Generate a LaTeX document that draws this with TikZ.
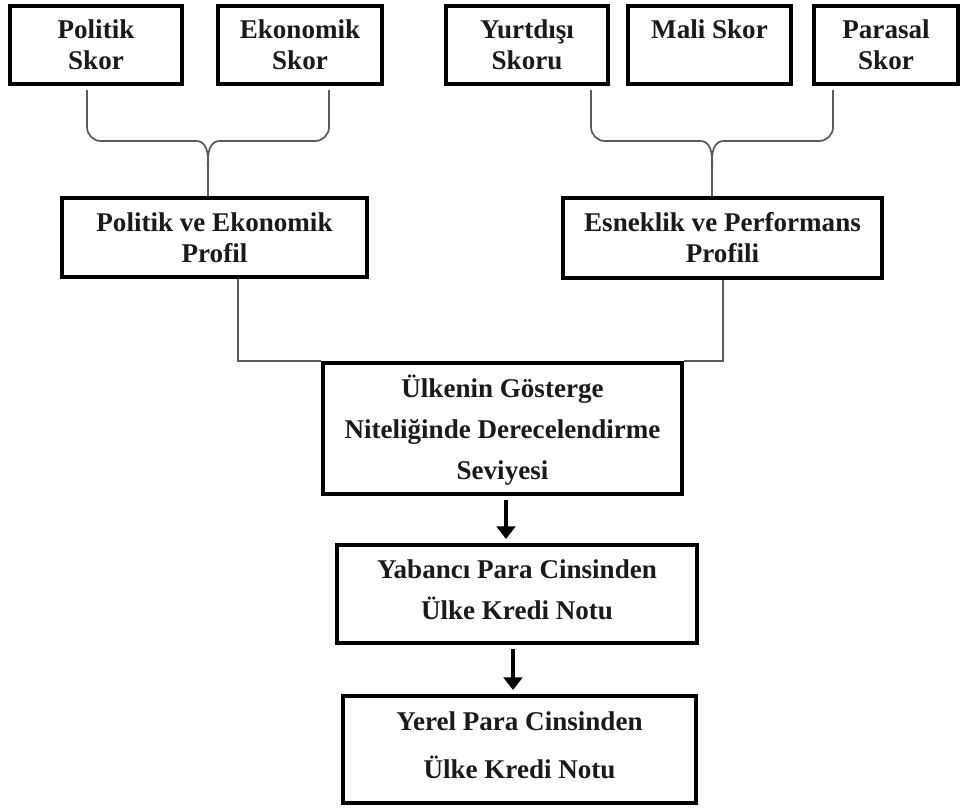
\documentclass[tikz,border=0pt]{standalone}
\usepackage{fontspec}
\setmainfont{Liberation Serif}
\usetikzlibrary{fit,arrows.meta}
\definecolor{ink}{HTML}{1A1A1A}
\definecolor{wire}{HTML}{5A5A5A}
\tikzset{
  box/.style={draw=black, line width=3pt, inner sep=0pt, fill=white},
  txt/.style={align=center, text=ink, inner sep=0pt,
    font=\fontsize{20.3}{23.25}\selectfont\bfseries},
  widetxt/.style={txt, font=\fontsize{20.3}{30.75}\selectfont\bfseries},
  talltxt/.style={txt, font=\fontsize{20.3}{36}\selectfont\bfseries},
  brace/.style={draw=wire, line width=1.3pt},
  wireline/.style={draw=wire, line width=1pt},
  bigarrow/.style={draw=black, line width=3.6pt,
    -{Triangle[width=14pt,length=9.5pt]}, shorten <=3pt, shorten >=3pt}
}
\begin{document}
\begin{tikzpicture}[x=0.75pt,y=-0.75pt]
\useasboundingbox[fill=white] (0,0) rectangle (960,808);

% score boxes
\node[box, fit={(10,6) (182,84)}]  (pol) {};
\node[box, fit={(218,6) (382,84)}] (eko) {};
\node[box, fit={(446,6) (608,84)}] (yur) {};
\node[box, fit={(628,6) (791,84)}] (mal) {};
\node[box, fit={(814,6) (958,84)}] (par) {};
\node[txt] (polt) at (pol.center) {Politik\\Skor};
\node[txt] (ekot) at (eko.center) {Ekonomik\\Skor};
\node[txt] (yurt) at (yur.center) {Yurtdışı\\Skoru};
\node[txt] (malt) at (mal.center) {Mali Skor\\\phantom{Skor}};
\node[txt] (part) at (par.center) {Parasal\\Skor};

% profile boxes
\node[box, fit={(62,198) (367,277)}]  (pep) {};
\node[box, fit={(563,198) (882,278)}] (epp) {};
\node[txt] (pept) at (pep.center) {Politik ve Ekonomik\\Profil};
\node[txt] (eppt) at (epp.center) {Esneklik ve Performans\\Profili};

% rating chain
\node[box, fit={(323,363) (682,494)}] (gos) {};
\node[box, fit={(337,545) (697,643)}] (yab) {};
\node[box, fit={(343,696) (696,803)}] (yer) {};
\node[widetxt] (gost) at ([yshift=-1.5pt]gos.center) {Ülkenin Gösterge\\Niteliğinde Derecelendirme\\Seviyesi};
\node[widetxt] (yabt) at ([yshift=3pt]yab.center) {Yabancı Para Cinsinden\\Ülke Kredi Notu};
\node[talltxt] (yert) at ([yshift=3pt]yer.center) {Yerel Para Cinsinden\\Ülke Kredi Notu};

% braces joining the scores into the profiles
\draw[brace] (pol.south -| 87,0) ++(0,4) -- (87,127)
  to[out=-90,in=180] (101,141) -- (196,141)
  to[out=0,in=90] (208,176) -- (pep.north -| 208,0);
\draw[brace] (eko.south -| 329,0) ++(0,4) -- (329,127)
  to[out=-90,in=0] (315,141) -- (220,141)
  to[out=180,in=90] (208,176);
\draw[brace] (yur.south -| 591,0) ++(0,4) -- (591,127)
  to[out=-90,in=180] (605,141) -- (700,141)
  to[out=0,in=90] (712,176) -- (epp.north -| 712,0);
\draw[brace] (par.south -| 833,0) ++(0,4) -- (833,127)
  to[out=-90,in=0] (819,141) -- (724,141)
  to[out=180,in=90] (712,176);

% profiles into the indicative rating
\draw[wireline] (pep.south -| 238,0) |- (gos.north west);
\draw[wireline] (epp.south -| 723,0) |- (gos.north east);

% rating arrows
\draw[bigarrow] (gos.south -| 506,0) -- (yab.north -| 506,0);
\draw[bigarrow] (yab.south -| 513,0) -- (yer.north -| 513,0);
\end{tikzpicture}
\end{document}
